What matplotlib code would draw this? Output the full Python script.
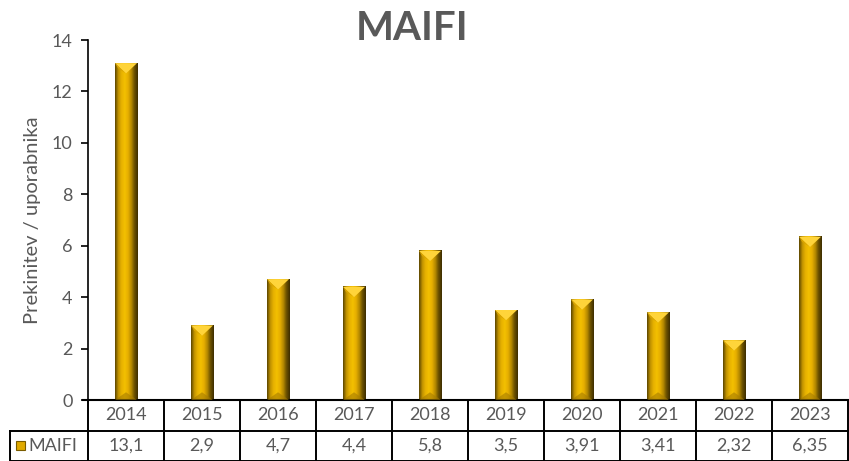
import numpy as np
import matplotlib.pyplot as plt
import matplotlib.transforms as mtransforms
from matplotlib.colors import LinearSegmentedColormap
from matplotlib.patches import Polygon, Rectangle

plt.rcParams["font.family"] = ["Lato", "DejaVu Sans"]

years = ["2014", "2015", "2016", "2017", "2018", "2019", "2020", "2021", "2022", "2023"]
maifi = [13.1, 2.9, 4.7, 4.4, 5.8, 3.5, 3.91, 3.41, 2.32, 6.35]
maifi_labels = ["13,1", "2,9", "4,7", "4,4", "5,8", "3,5", "3,91", "3,41", "2,32", "6,35"]
series_name = "MAIFI"

grey = "#595959"
fig = plt.figure(figsize=(8.49, 4.61), dpi=100)
ax = fig.add_axes([88 / 849, 61 / 461, 760 / 849, 360 / 461])

x = np.arange(len(years))
w = 0.29
gold = LinearSegmentedColormap.from_list(
    "gold", ["#5e4700", "#c29400", "#e8b200", "#f3c000", "#e6ae00", "#b58900", "#6a5000", "#3e2e00"])
grad = np.linspace(0, 1, 64).reshape(1, -1)

# invisible bars to keep the axes honest, then shaded bodies on top
ax.bar(x, maifi, width=w, color="none")
for xi, v in zip(x, maifi):
    ax.imshow(grad, cmap=gold, aspect="auto", extent=(xi - w / 2, xi + w / 2, 0, v), zorder=2)
    bev = 0.4
    ax.add_patch(Polygon([(xi - w / 2, v), (xi + w / 2, v), (xi, v - bev)],
                         closed=True, facecolor="#ffd43a", edgecolor="none", zorder=3))
    ax.add_patch(Polygon([(xi - w / 2, v), (xi - w / 2 + 0.04, v - 0.2), (xi, v - bev)],
                         closed=True, facecolor="#d9a400", edgecolor="none", zorder=3))
    ax.add_patch(Polygon([(xi - w / 2, 0), (xi + w / 2, 0), (xi, 0.3)],
                         closed=True, facecolor="#a67c00", edgecolor="none", alpha=0.6, zorder=3))

ax.set_xlim(-0.5, len(years) - 0.5)
ax.set_ylim(0, 14)
ax.set_yticks(range(0, 15, 2))
ax.set_xticks([])
ax.tick_params(axis="y", direction="out", length=5, width=1.2, colors="black",
               labelcolor=grey, labelsize=13, pad=6)
for s in ["top", "right"]:
    ax.spines[s].set_visible(False)
ax.spines["left"].set_linewidth(1.2)
ax.spines["bottom"].set_linewidth(1.5)
ax.spines["bottom"].set_bounds(-0.57, len(years) - 0.5)
ax.set_ylabel("Prekinitev / uporabnika", color=grey, fontsize=14.5, labelpad=8)

fig.text(412 / 849, 1 - 29 / 461, "MAIFI", ha="center", va="center",
         fontsize=29, fontweight="bold", color=grey)

# data table under the axis
tr = mtransforms.blended_transform_factory(ax.transData, ax.transAxes)
rh = 30.5 / 360
left = -0.5 - 78 / 76.0
lw = 1.4
n = len(years)
ax.plot([-0.5, -0.5], [0, -2 * rh], transform=tr, color="black", lw=lw, clip_on=False)
ax.plot([left, n - 0.5], [-rh, -rh], transform=tr, color="black", lw=lw, clip_on=False)
ax.plot([left, left], [-rh, -2 * rh], transform=tr, color="black", lw=lw, clip_on=False)
ax.plot([left, n - 0.5], [-2 * rh, -2 * rh], transform=tr, color="black", lw=lw, clip_on=False)
for i in range(n):
    ax.plot([i + 0.5, i + 0.5], [0, -2 * rh], transform=tr, color="black", lw=lw, clip_on=False)
    ax.text(i, -rh / 2, years[i], transform=tr, ha="center", va="center",
            fontsize=13, color=grey, clip_on=False)
    ax.text(i, -1.5 * rh, maifi_labels[i], transform=tr, ha="center", va="center",
            fontsize=13, color=grey, clip_on=False)
ax.add_patch(Rectangle((left + 0.08, -1.5 * rh - 0.0125), 0.12, 0.025, transform=tr,
                       facecolor="#e0aa00", edgecolor="#7a5c00", lw=0.8, clip_on=False))
ax.text(left + 0.24, -1.5 * rh, series_name, transform=tr, ha="left", va="center",
        fontsize=13, color=grey, clip_on=False)

fig.savefig("out.png", dpi=100)
